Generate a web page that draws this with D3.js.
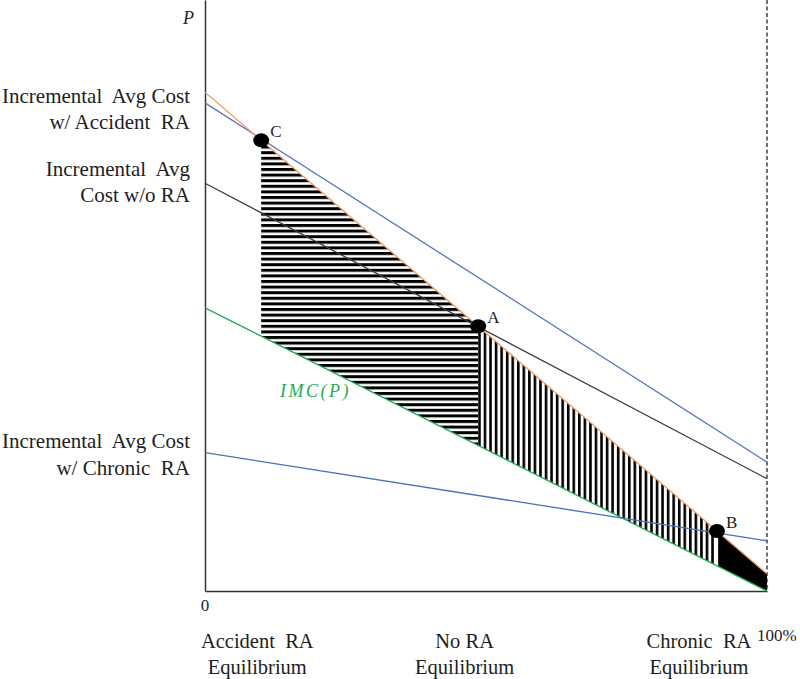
<!DOCTYPE html>
<html>
<head>
<meta charset="utf-8">
<script src="https://cdn.jsdelivr.net/npm/d3@7"></script>
<style>
  html, body { margin: 0; padding: 0; background: #fff; }
  svg { display: block; }
  text { font-family: "Liberation Serif", "Times New Roman", serif; fill: #1e1e1e; }
</style>
</head>
<body>
<svg id="chart" width="800" height="679"></svg>
<script>
// ---------------- data ----------------
const lineX = [0, 100];                 // share of market (%), endpoints of each line
const accidentRA_P = [82.6, 21.8];      // Incremental Avg Cost w/ Accident RA (blue)
const noRA_P = [69.0, 19.0];            // Incremental Avg Cost w/o RA (dark)
const chronicRA_P = [23.4, 8.5];        // Incremental Avg Cost w/ Chronic RA (blue)
const imc_P = [47.9, 0.0];              // IMC(P) (green)
const demand_P = [84.4, 2.9];           // willingness to pay (orange)
const pointNames = ["C", "A", "B"];
const pointX = [10.0, 48.6, 91.1];      // equilibria (%)
const leftLabels = [
  { lines: ["Incremental  Avg Cost", "w/ Accident  RA"], P: 83.6 },
  { lines: ["Incremental  Avg", "Cost w/o RA"], P: 71.3 },
  { lines: ["Incremental  Avg Cost", "w/ Chronic  RA"], P: 25.2 }
];
const bottomLabels = [
  { lines: ["Accident  RA", "Equilibrium"], x: 9.3 },
  { lines: ["No RA", "Equilibrium"], x: 46.2 },
  { lines: ["Chronic  RA", "Equilibrium"], x: 87.9 }
];
const xTickLabels = ["0", "100%"];

// ---------------- scales ----------------
const svg = d3.select("#chart");
const x = d3.scaleLinear().domain([0, 100]).range([205, 767]);
const y = d3.scaleLinear().domain([0, 100]).range([591, 0]);

const lerp = (arr) => d3.scaleLinear().domain(lineX).range(arr);
const demandAt = lerp(demand_P);
const imcAt = lerp(imc_P);

// ---------------- patterns ----------------
const defs = svg.append("defs");
const ph = defs.append("pattern").attr("id", "hstripe")
  .attr("patternUnits", "userSpaceOnUse").attr("width", 10).attr("height", 5.6);
ph.append("rect").attr("x", 0).attr("y", 0).attr("width", 10).attr("height", 3).attr("fill", "#000");
const pv = defs.append("pattern").attr("id", "vstripe")
  .attr("patternUnits", "userSpaceOnUse").attr("width", 5.55).attr("height", 10)
  .attr("x", x(pointX[1]));
pv.append("rect").attr("x", 0).attr("y", 0).attr("width", 2.6).attr("height", 10).attr("fill", "#000");

// ---------------- regions ----------------
const regionPoly = (x1, x2) => [
  [x(x1), y(demandAt(x1))], [x(x2), y(demandAt(x2))],
  [x(x2), y(imcAt(x2))], [x(x1), y(imcAt(x1))]
];
const polyLine = d3.line();
svg.append("path").attr("d", polyLine(regionPoly(pointX[0], pointX[1])) + "Z").attr("fill", "url(#hstripe)");
svg.append("path").attr("d", polyLine(regionPoly(pointX[1], pointX[2] - 0.15)) + "Z").attr("fill", "url(#vstripe)");
svg.append("path").attr("d", polyLine(regionPoly(pointX[2] + 0.2, 100)) + "Z").attr("fill", "#000");

// ---------------- axes ----------------
const gy = svg.append("g").attr("transform", `translate(${x(0)},0)`)
  .call(d3.axisLeft(y).ticks(0).tickSizeOuter(0));
const gx = svg.append("g").attr("transform", `translate(0,${y(0)})`)
  .call(d3.axisBottom(x).ticks(0).tickSizeOuter(0));
[gy, gx].forEach(g => g.select(".domain").attr("stroke", "#333").attr("stroke-width", 1.5));

// dashed 100% line
svg.append("line")
  .attr("x1", x(100)).attr("x2", x(100)).attr("y1", y(100)).attr("y2", y(0))
  .attr("stroke", "#111").attr("stroke-width", 1.2).attr("stroke-dasharray", "4,2.5");

// ---------------- lines ----------------
const series = [
  { P: noRA_P, color: "#3c3c3c" },
  { P: accidentRA_P, color: "#5577b8" },
  { P: chronicRA_P, color: "#4a70b8" },
  { P: imc_P, color: "#1eaa55" },
  { P: demand_P, color: "#f0a068" }
];
const ln = d3.line().x(d => x(d[0])).y(d => y(d[1]));
series.forEach(s => {
  svg.append("path")
    .attr("d", ln(lineX.map((xv, i) => [xv, s.P[i]])))
    .attr("fill", "none").attr("stroke", s.color).attr("stroke-width", 1.3);
});

// ---------------- equilibrium points ----------------
pointX.forEach((px, i) => {
  svg.append("ellipse")
    .attr("cx", x(px)).attr("cy", y(demandAt(px)))
    .attr("rx", 8).attr("ry", 7).attr("fill", "#000");
  svg.append("text")
    .attr("x", x(px) + 9).attr("y", y(demandAt(px)) - 3)
    .attr("font-size", 17).text(pointNames[i]);
});

// ---------------- labels ----------------
leftLabels.forEach(l => {
  const t = svg.append("text").attr("text-anchor", "end").attr("font-size", 21);
  l.lines.forEach((s, i) => {
    t.append("tspan").attr("x", 190).attr("y", y(l.P) + 6 + i * 26.5).text(s)
      .style("white-space", "pre");
  });
});
bottomLabels.forEach(l => {
  const t = svg.append("text").attr("text-anchor", "middle").attr("font-size", 20.5);
  l.lines.forEach((s, i) => {
    t.append("tspan").attr("x", x(l.x)).attr("y", 648 + i * 26).text(s)
      .style("white-space", "pre");
  });
});
svg.append("text").attr("x", x(0)).attr("y", 611).attr("text-anchor", "middle")
  .attr("font-size", 17).text(xTickLabels[0]);
svg.append("text").attr("x", 757).attr("y", 641)
  .attr("font-size", 17).text(xTickLabels[1]);

svg.append("text").attr("x", 183).attr("y", 24).attr("font-size", 18)
  .attr("font-style", "italic").text("P");

svg.append("text").attr("x", 280).attr("y", 397).attr("font-size", 18)
  .attr("font-family", "DejaVu Serif").attr("font-style", "italic")
  .attr("letter-spacing", 2.5).style("fill", "#1eaa55").text("IMC(P)");
</script>
</body>
</html>
